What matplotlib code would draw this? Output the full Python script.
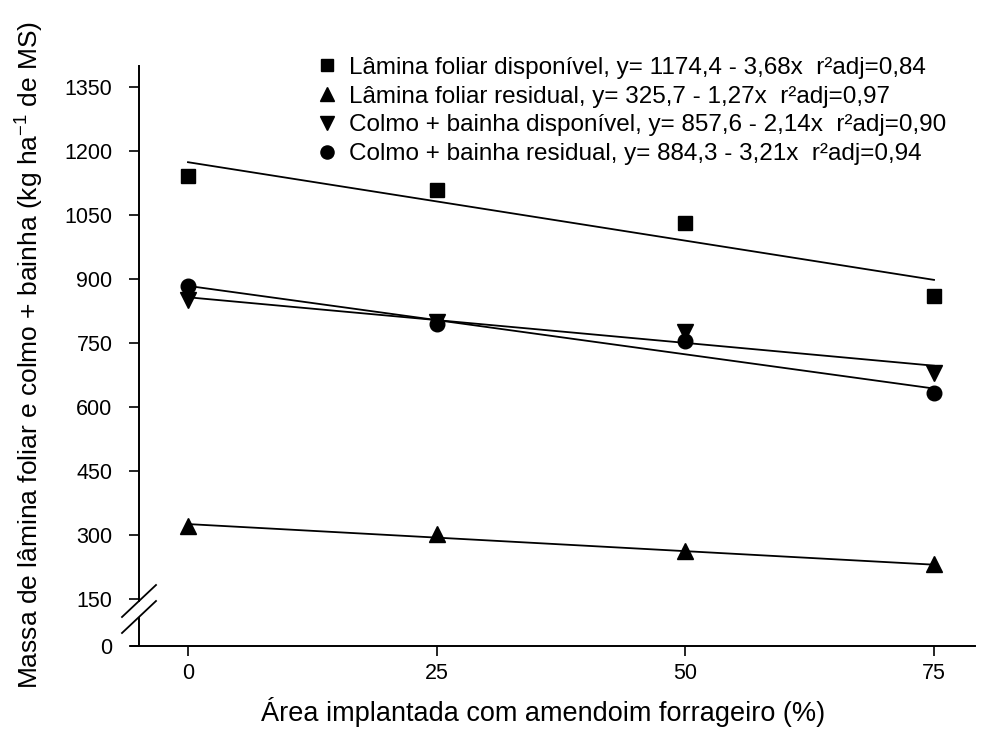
import matplotlib
matplotlib.use("Agg")
import matplotlib.pyplot as plt
import numpy as np
from matplotlib.lines import Line2D

plt.rcParams["font.family"] = ["Liberation Sans", "DejaVu Sans"]
plt.rcParams["mathtext.default"] = "regular"

# Área implantada com amendoim forrageiro (%)
area = [0, 25, 50, 75]

lamina_disp = [1142, 1110, 1032, 860]
lamina_resid = [322, 302, 262, 232]
colmo_disp = [852, 800, 775, 680]
colmo_resid = [884, 794, 755, 632]

# fitted equations: (intercept, slope)
fit_lamina_disp = (1174.4, -3.68)
fit_lamina_resid = (325.7, -1.27)
fit_colmo_disp = (857.6, -2.14)
fit_colmo_resid = (884.3, -3.21)

legend_labels = [
    "Lâmina foliar disponível, y= 1174,4 - 3,68x  r²adj=0,84",
    "Lâmina foliar residual, y= 325,7 - 1,27x  r²adj=0,97",
    "Colmo + bainha disponível, y= 857,6 - 2,14x  r²adj=0,90",
    "Colmo + bainha residual, y= 884,3 - 3,21x  r²adj=0,94",
]
y_ticks = [150, 300, 450, 600, 750, 900, 1050, 1200, 1350]
x_ticks = [0, 25, 50, 75]

W, H = 982, 743
fig = plt.figure(figsize=(W / 100, H / 100), dpi=100)

left_px, right_px = 131, 975
spine_px = 139
ax_w = (right_px - left_px) / W
spine_frac = (spine_px - left_px) / (right_px - left_px)
xlim = (0 - (188 - left_px) / 248.7 * 25, 75 + (right_px - 934) / 248.7 * 25)

# main panel (150 .. 1400)
ax = fig.add_axes([left_px / W, (H - 601) / H, ax_w, (601 - 66) / H])
# bottom panel holding only the zero tick and the x axis
axb = fig.add_axes([left_px / W, (H - 646) / H, ax_w, (646 - 618) / H])

for a in (ax, axb):
    a.set_xlim(*xlim)
    a.spines["top"].set_visible(False)
    a.spines["right"].set_visible(False)
    a.spines["left"].set_position(("axes", spine_frac))
    a.patch.set_alpha(0)
    a.tick_params(axis="both", direction="out", length=7, width=1.2,
                  labelsize=15.5, colors="black")
    a.tick_params(axis="y", pad=12)
    for s in a.spines.values():
        s.set_linewidth(1.4)

ax.set_ylim(145.3, 1400)
ax.spines["bottom"].set_visible(False)
ax.set_yticks(y_ticks)
ax.tick_params(axis="x", bottom=False, labelbottom=False)

axb.set_ylim(0, 1)
axb.set_yticks([0])
axb.set_xticks(x_ticks)
axb.tick_params(axis="x", pad=5)

series = [
    (lamina_disp, fit_lamina_disp, "s", 10),
    (lamina_resid, fit_lamina_resid, "^", 11),
    (colmo_disp, fit_colmo_disp, "v", 11),
    (colmo_resid, fit_colmo_resid, "o", 10.5),
]
handles = []
xs = np.array([area[0], area[-1]])
for (vals, (b0, b1), mk, ms), lab in zip(series, legend_labels):
    ax.plot(xs, b0 + b1 * xs, color="black", lw=1.3, zorder=2)
    ax.plot(area, vals, ls="none", marker=mk, ms=ms, color="black",
            zorder=3, clip_on=False)
    handles.append(Line2D([], [], ls="none", marker=mk, ms=ms * 0.9,
                          color="black", label=lab))

fig.legend(handles=handles, loc="upper left",
           bbox_to_anchor=(305 / W, 1 - 47 / H), frameon=False,
           handlelength=1.0, handletextpad=0.4, labelspacing=0.28,
           borderaxespad=0, prop={"size": 17.5})

# axis break marks
for y0 in (617, 633):
    fig.add_artist(Line2D([122 / W, 156 / W],
                          [1 - y0 / H, 1 - (y0 - 32) / H],
                          transform=fig.transFigure, color="black", lw=1.3))

fig.text(30 / W, 1 - 355 / H,
         "Massa de lâmina foliar e colmo + bainha (kg ha$^{-1}$ de MS)",
         rotation=90, ha="center", va="center", fontsize=19)
fig.text(543 / W, 1 - 712 / H, "Área implantada com amendoim forrageiro (%)",
         ha="center", va="center", fontsize=19.5)

fig.savefig("out.png", dpi=100)
